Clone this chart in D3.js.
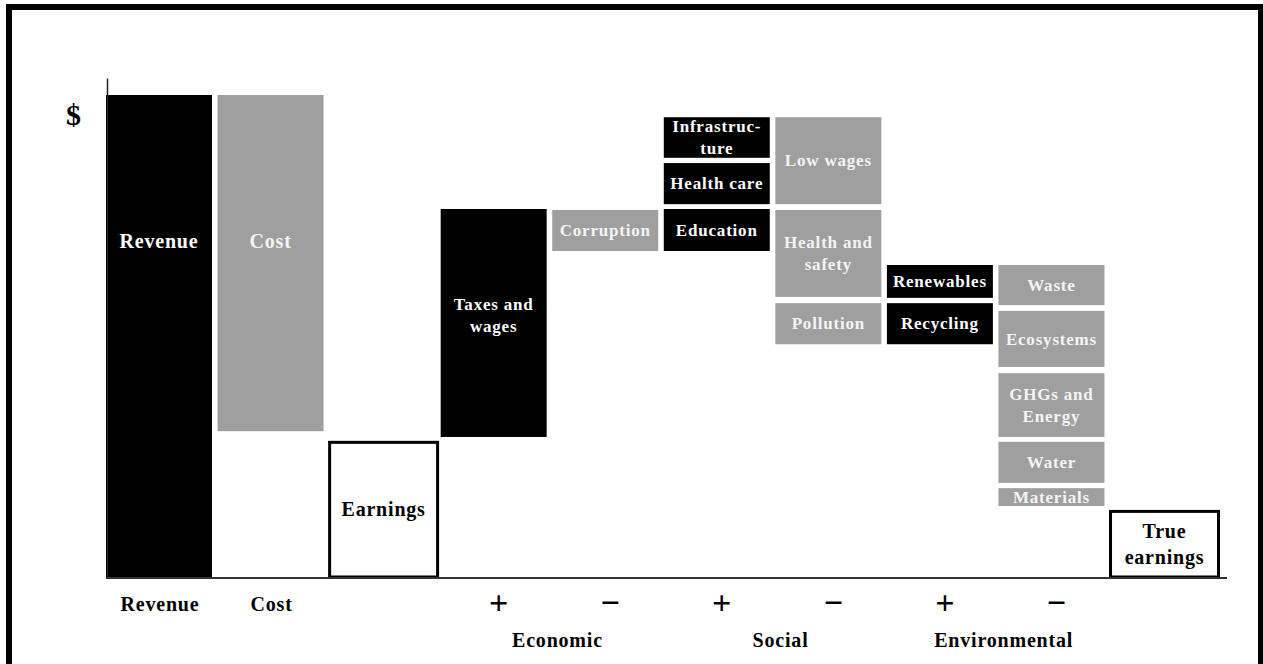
<!DOCTYPE html>
<html>
<head>
<meta charset="utf-8">
<script src="https://cdn.jsdelivr.net/npm/d3@7"></script>
<style>
  html, body { margin: 0; padding: 0; background: #fff; }
  svg { display: block; }
  text { font-family: "Liberation Serif", "Times New Roman", serif; font-weight: bold; letter-spacing: 0.8px; }
</style>
</head>
<body>
<svg id="chart" width="1263" height="664"></svg>
<script>
// ---- data ----
const columns = ["Revenue", "Cost", "Earnings", "Econ+", "Econ-", "Social+", "Social-", "Env+", "Env-", "True earnings"];
const bottomLabels = ["Revenue", "Cost", "", "+", "\u2212", "+", "\u2212", "+", "\u2212", ""];
const groupLabels = ["Economic", "Social", "Environmental"];
const groupColumns = [["Econ+", "Econ-"], ["Social+", "Social-"], ["Env+", "Env-"]];

// each block: visible low / high value (Revenue = 100)
const blocks = [
  { label: "Revenue",            col: "Revenue",       low: 0,    high: 100,  kind: "dark",  size: 20, labelAt: 69.8 },
  { label: "Cost",               col: "Cost",          low: 30.4, high: 100,  kind: "grey",  size: 20, labelAt: 69.8 },
  { label: "Earnings",           col: "Earnings",      low: 0,    high: 28.4, kind: "box",   size: 20 },
  { label: "Taxes and\nwages",   col: "Econ+",         low: 29.2, high: 76.4, kind: "dark",  size: 17, labelAt: 54.4 },
  { label: "Corruption",         col: "Econ-",         low: 67.7, high: 76.2, kind: "grey",  size: 17 },
  { label: "Education",          col: "Social+",       low: 67.7, high: 76.4, kind: "dark",  size: 17 },
  { label: "Health care",        col: "Social+",       low: 77.4, high: 85.9, kind: "dark",  size: 17 },
  { label: "Infrastruc-\nture",  col: "Social+",       low: 87.0, high: 95.4, kind: "dark",  size: 17 },
  { label: "Low wages",          col: "Social-",       low: 77.4, high: 95.4, kind: "grey",  size: 17 },
  { label: "Health and\nsafety", col: "Social-",       low: 58.2, high: 76.2, kind: "grey",  size: 17 },
  { label: "Pollution",          col: "Social-",       low: 48.4, high: 56.9, kind: "grey",  size: 17 },
  { label: "Renewables",         col: "Env+",          low: 58.0, high: 64.8, kind: "dark",  size: 17 },
  { label: "Recycling",          col: "Env+",          low: 48.4, high: 56.9, kind: "dark",  size: 17 },
  { label: "Waste",              col: "Env-",          low: 56.5, high: 64.8, kind: "grey",  size: 17 },
  { label: "Ecosystems",         col: "Env-",          low: 43.7, high: 55.3, kind: "grey",  size: 17 },
  { label: "GHGs and\nEnergy",   col: "Env-",          low: 29.2, high: 42.4, kind: "grey",  size: 17 },
  { label: "Water",              col: "Env-",          low: 19.7, high: 28.2, kind: "grey",  size: 17 },
  { label: "Materials",          col: "Env-",          low: 14.9, high: 18.6, kind: "grey",  size: 17 },
  { label: "True\nearnings",     col: "True earnings", low: 0,    high: 14.1, kind: "box",   size: 20 }
];
const axisTopValue = 103.5;

// ---- scales ----
const svg = d3.select("#chart");
const W = 1263, H = 664;
const x = d3.scaleBand().domain(columns).range([106, 1216]).paddingInner(0.05).paddingOuter(0);
const y = d3.scaleLinear().domain([0, 100]).range([578, 95]);

const GREY = "#9f9f9f";
const fills = { dark: "#000", grey: GREY, box: "#fff" };
const textFill = { dark: "#fff", grey: "#f4f4f4", box: "#000" };

// frame
svg.append("rect")
  .attr("x", 9).attr("y", 7).attr("width", 1252).attr("height", 720)
  .attr("fill", "none").attr("stroke", "#000").attr("stroke-width", 6);

// blocks
const g = svg.append("g");
blocks.forEach(b => {
  const x0 = x(b.col), bw = x.bandwidth();
  const yTop = y(b.high), yBot = y(b.low);
  if (b.kind === "box") {
    g.append("rect")
      .attr("x", x0 + 0.5).attr("y", yTop + 1.5)
      .attr("width", bw + 2).attr("height", yBot - yTop - 2.5)
      .attr("fill", "#fff").attr("stroke", "#000").attr("stroke-width", 3);
  } else {
    g.append("rect")
      .attr("x", x0).attr("y", yTop)
      .attr("width", bw).attr("height", yBot - yTop)
      .attr("fill", fills[b.kind]);
  }
  const lines = b.label.split("\n");
  const cy = b.labelAt !== undefined ? y(b.labelAt) : (yTop + yBot) / 2;
  const lh = b.size * 1.3;
  const t = g.append("text")
    .attr("text-anchor", "middle")
    .attr("fill", textFill[b.kind])
    .attr("font-size", b.size);
  lines.forEach((ln, i) => {
    const off = (i - (lines.length - 1) / 2) * lh;
    t.append("tspan")
      .attr("x", x0 + bw / 2 + (b.kind === "box" ? 1.5 : 0))
      .attr("y", cy + off + b.size * 0.34)
      .text(ln);
  });
});

// y axis line
const yAxis = d3.axisLeft(d3.scaleLinear().domain([0, axisTopValue]).range([y(0), y(axisTopValue)]))
  .ticks(0).tickSize(0).tickSizeOuter(0);
svg.append("g").attr("transform", `translate(${x.range()[0] + 1},0)`).call(yAxis)
  .call(s => s.select(".domain").attr("stroke", "#222").attr("stroke-width", 1.5))
  .call(s => s.selectAll("text").remove());

// baseline + bottom labels
const xAxis = d3.axisBottom(x).tickSize(0).tickSizeOuter(0)
  .tickFormat((d, i) => bottomLabels[i]);
const ax = svg.append("g").attr("transform", `translate(0,${y(0)})`).call(xAxis);
ax.select(".domain").remove();
ax.selectAll(".tick text")
  .attr("fill", "#000")
  .attr("y", 0)
  .each(function(d, i) {
    const s = d3.select(this);
    const lbl = bottomLabels[i];
    if (lbl === "+" || lbl === "\u2212") {
      s.attr("font-size", 34).attr("font-weight", "normal")
       .attr("dy", 0).attr("y", 36).attr("dx", 5).style("letter-spacing", "0px");
    } else {
      s.attr("font-size", 20).attr("dy", 0).attr("y", 33).attr("dx", 1);
    }
  })
  .attr("font-family", "Liberation Serif, serif");

svg.append("line")
  .attr("x1", x.range()[0]).attr("x2", x.range()[1] + 11)
  .attr("y1", y(0)).attr("y2", y(0))
  .attr("stroke", "#333").attr("stroke-width", 2);

// group labels
groupLabels.forEach((lbl, i) => {
  const [a, b] = groupColumns[i];
  const cx = (x(a) + x(b)) / 2 + x.bandwidth() / 2 + 8;
  svg.append("text")
    .attr("x", cx).attr("y", 647)
    .attr("text-anchor", "middle").attr("font-size", 20).attr("fill", "#000")
    .text(lbl);
});

// $ label
svg.append("text")
  .attr("x", 74).attr("y", 125)
  .attr("text-anchor", "middle").attr("font-size", 30).attr("fill", "#000")
  .text("$");
</script>
</body>
</html>
